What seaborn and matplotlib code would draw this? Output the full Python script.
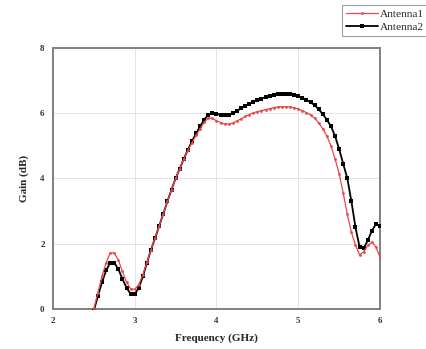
import numpy as np
import pandas as pd
import matplotlib
matplotlib.use("Agg")
import matplotlib.pyplot as plt
import seaborn as sns

freq = [2.50, 2.55, 2.60, 2.65, 2.70, 2.75, 2.80, 2.85, 2.90, 2.95,
        3.00, 3.05, 3.10, 3.15, 3.20, 3.25, 3.30, 3.35, 3.40, 3.45,
        3.50, 3.55, 3.60, 3.65, 3.70, 3.75, 3.80, 3.85, 3.90, 3.95,
        4.00, 4.05, 4.10, 4.15, 4.20, 4.25, 4.30, 4.35, 4.40, 4.45,
        4.50, 4.55, 4.60, 4.65, 4.70, 4.75, 4.80, 4.85, 4.90, 4.95,
        5.00, 5.05, 5.10, 5.15, 5.20, 5.25, 5.30, 5.35, 5.40, 5.45,
        5.50, 5.55, 5.60, 5.65, 5.70, 5.75, 5.80, 5.85, 5.90, 5.95, 6.00]

antenna1 = [0.00, 0.50, 1.00, 1.42, 1.72, 1.72, 1.50, 1.15, 0.82, 0.62,
            0.60, 0.75, 1.05, 1.45, 1.82, 2.18, 2.55, 2.92, 3.30, 3.66,
            4.00, 4.30, 4.60, 4.86, 5.10, 5.32, 5.52, 5.72, 5.86, 5.84,
            5.77, 5.71, 5.67, 5.67, 5.70, 5.76, 5.83, 5.90, 5.96, 6.01,
            6.05, 6.08, 6.11, 6.14, 6.17, 6.19, 6.20, 6.20, 6.19, 6.17,
            6.13, 6.08, 6.02, 5.95, 5.85, 5.70, 5.52, 5.30, 5.00, 4.60,
            4.15, 3.55, 2.90, 2.35, 1.95, 1.66, 1.75, 1.95, 2.05, 1.90, 1.58]

antenna2 = [-0.05, 0.40, 0.82, 1.18, 1.42, 1.42, 1.22, 0.92, 0.65, 0.46,
            0.45, 0.65, 1.00, 1.42, 1.82, 2.18, 2.55, 2.92, 3.30, 3.66,
            4.00, 4.30, 4.60, 4.88, 5.14, 5.38, 5.60, 5.80, 5.96, 6.00,
            5.98, 5.95, 5.94, 5.95, 6.00, 6.07, 6.15, 6.22, 6.29, 6.35,
            6.40, 6.45, 6.49, 6.53, 6.56, 6.58, 6.59, 6.59, 6.58, 6.55,
            6.52, 6.47, 6.41, 6.33, 6.25, 6.12, 5.97, 5.80, 5.60, 5.30,
            4.90, 4.45, 4.00, 3.30, 2.50, 1.90, 1.86, 2.10, 2.40, 2.60, 2.55]

x_ticks = [2, 3, 4, 5, 6]
y_ticks = [0, 2, 4, 6, 8]

sns.set_style("white")
plt.rcParams['font.family'] = ['Liberation Serif', 'DejaVu Serif']

df1 = pd.DataFrame({"Frequency": freq, "Gain": antenna1})
df2 = pd.DataFrame({"Frequency": freq, "Gain": antenna2})

fig = plt.figure(figsize=(4.27, 3.49), dpi=100)
ax = fig.add_axes([0.124, 0.1146, 0.766, 0.748])

sns.lineplot(data=df2, x="Frequency", y="Gain", ax=ax, color="black",
             linewidth=1.3, marker="s", markersize=3.0, markeredgewidth=0,
             label="Antenna2", zorder=3)
sns.lineplot(data=df1, x="Frequency", y="Gain", ax=ax, color="#e8474a",
             linewidth=0.9, marker="o", markersize=2.0, markeredgewidth=0,
             label="Antenna1", zorder=4)

handles, labels = ax.get_legend_handles_labels()
if ax.get_legend() is not None:
    ax.get_legend().remove()

ax.set_xlim(2, 6)
ax.set_ylim(0, 8)
ax.set_xticks(x_ticks)
ax.set_yticks(y_ticks)
ax.set_xticks([2.5, 3.5, 4.5, 5.5], minor=True)
ax.set_yticks([1, 3, 5, 7], minor=True)
ax.grid(True, which="major", color="#e4e4e4", linewidth=0.7)
ax.set_axisbelow(True)

for s in ax.spines.values():
    s.set_color("#808080")
    s.set_linewidth(1.4)

ax.tick_params(which="major", direction="out", length=4, width=1.2,
               color="#808080", labelsize=6.5, pad=2)
ax.tick_params(which="minor", direction="out", length=2.5, width=1.0,
               color="#808080")
for lab in ax.get_xticklabels() + ax.get_yticklabels():
    lab.set_fontweight("bold")
    lab.set_color("#333333")

ax.set_xlabel("Frequency (GHz)", fontsize=8, fontweight="bold", labelpad=6)
ax.set_ylabel("Gain (dB)", fontsize=8, fontweight="bold", labelpad=8)

order = [labels.index("Antenna1"), labels.index("Antenna2")]
leg = fig.legend([handles[i] for i in order], [labels[i] for i in order],
                 loc="upper left", bbox_to_anchor=(342 / 427, 1 - 5 / 349),
                 frameon=True, fancybox=False, fontsize=8.2,
                 handlelength=2.8, handletextpad=0.2, borderpad=0.35,
                 labelspacing=0.3, borderaxespad=0)
leg.get_frame().set_edgecolor("#888888")
leg.get_frame().set_linewidth(0.8)

fig.savefig("out.png", dpi=100, facecolor="white")
